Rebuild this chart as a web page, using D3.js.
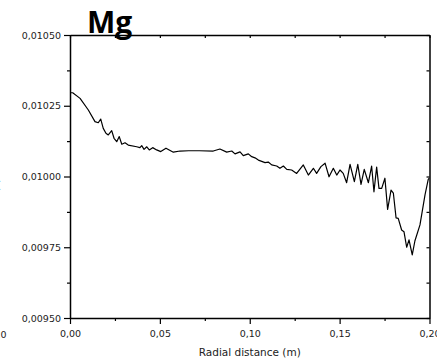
<!DOCTYPE html>
<html><head><meta charset="utf-8">
<script src="https://cdn.jsdelivr.net/npm/d3@7"></script>
<style>
html,body{margin:0;padding:0;background:#fff;}
svg{display:block;}
</style></head>
<body>
<svg id="chart" width="437" height="361"></svg>
<script>
// ---- data ----
const chartTitle = "Mg";
const xAxisTitle = "Radial distance (m)";
const yAxisTitle = "Mass fraction (-)";
const xTicks = [0, 0.05, 0.10, 0.15, 0.20];
const yTicks = [0.0095, 0.00975, 0.0100, 0.01025, 0.0105];
const radialDistance = [
  0.0000, 0.0015, 0.0056, 0.0102, 0.0139, 0.0157, 0.0171, 0.0185, 0.0200, 0.0213,
  0.0232, 0.0245, 0.0260, 0.0274, 0.0288, 0.0306, 0.0324, 0.0371, 0.0389, 0.0399,
  0.0412, 0.0427, 0.0441, 0.0460, 0.0482, 0.0505, 0.0534, 0.0575, 0.0612, 0.0660,
  0.0720, 0.0797, 0.0834, 0.0872, 0.0900, 0.0918, 0.0946, 0.0964, 0.0992, 0.1011,
  0.1029, 0.1048, 0.1085, 0.1103, 0.1122, 0.1150, 0.1168, 0.1187, 0.1206, 0.1233,
  0.1261, 0.1298, 0.1326, 0.1354, 0.1372, 0.1396, 0.1419, 0.1441, 0.1465, 0.1484,
  0.1502, 0.1520, 0.1539, 0.1558, 0.1582, 0.1601, 0.1619, 0.1637, 0.1660, 0.1678,
  0.1691, 0.1706, 0.1719, 0.1734, 0.1752, 0.1767, 0.1786, 0.1799, 0.1814, 0.1826,
  0.1845, 0.1858, 0.1873, 0.1886, 0.1904, 0.1919, 0.1947, 0.1975, 0.1993, 0.2000
];
const massFraction = [
  0.010296, 0.010296, 0.010276, 0.010235, 0.010194, 0.010190, 0.010203, 0.010170, 0.010153, 0.010147,
  0.010162, 0.010135, 0.010123, 0.010141, 0.010114, 0.010119, 0.010111, 0.010105, 0.010102, 0.010109,
  0.010096, 0.010105, 0.010094, 0.010102, 0.010094, 0.010088, 0.010100, 0.010086, 0.010090, 0.010091,
  0.010091, 0.010090, 0.010097, 0.010086, 0.010090, 0.010080, 0.010087, 0.010074, 0.010080, 0.010070,
  0.010066, 0.010058, 0.010049, 0.010051, 0.010041, 0.010037, 0.010029, 0.010037, 0.010025, 0.010023,
  0.010011, 0.010041, 0.010005, 0.010029, 0.010011, 0.010035, 0.010047, 0.009999, 0.010029, 0.010005,
  0.010023, 0.010011, 0.009978, 0.010043, 0.009982, 0.010043, 0.009972, 0.010025, 0.009978, 0.010037,
  0.009946, 0.010033, 0.009958, 0.009958, 0.009994, 0.009884, 0.009952, 0.009941, 0.009854, 0.009852,
  0.009811, 0.009805, 0.009750, 0.009776, 0.009723, 0.009773, 0.009829, 0.009935, 0.009990, 0.009995
];

// ---- layout ----
const L = 70, R = 429.5, T = 35, B = 318;
const svg = d3.select("#chart");
const x = d3.scaleLinear().domain([0, 0.2]).range([L, R]);
const y = d3.scaleLinear().domain([0.0095, 0.0105]).range([B, T]);
const commaFmt = f => v => d3.format(f)(v).replace(".", ",");
const minorX = d3.range(0, 4).map(i => 0.025 + i * 0.05);
const minorY = d3.range(0, 4).map(i => 0.009625 + i * 0.00025);
const font = "'DejaVu Sans', Verdana, sans-serif";

// data line (clipped to plot)
svg.append("clipPath").attr("id", "clip").append("rect")
  .attr("x", L).attr("y", T).attr("width", R - L).attr("height", B - T);
const line = d3.line().x((d, i) => x(radialDistance[i])).y(d => y(d));
svg.append("path").datum(massFraction)
  .attr("d", line).attr("fill", "none").attr("stroke", "#000")
  .attr("stroke-width", 1.2).attr("stroke-linejoin", "round")
  .attr("clip-path", "url(#clip)");

// bottom axis
svg.append("g").attr("transform", `translate(0,${B})`)
  .call(d3.axisBottom(x).tickValues(xTicks).tickFormat(commaFmt(".2f")).tickSize(6).tickPadding(6).tickSizeOuter(0));
svg.append("g").attr("transform", `translate(0,${B})`)
  .call(d3.axisBottom(x).tickValues(minorX).tickFormat("").tickSize(3).tickSizeOuter(0))
  .select(".domain").remove();
// left axis
svg.append("g").attr("transform", `translate(${L},0)`)
  .call(d3.axisLeft(y).tickValues(yTicks).tickFormat(commaFmt(".5f")).tickSize(6).tickPadding(3).tickSizeOuter(0));
svg.append("g").attr("transform", `translate(${L},0)`)
  .call(d3.axisLeft(y).tickValues(minorY).tickFormat("").tickSize(3).tickSizeOuter(0))
  .select(".domain").remove();
// top axis (inward ticks, no labels)
svg.append("g").attr("transform", `translate(0,${T})`)
  .call(d3.axisTop(x).tickValues(xTicks.concat(minorX)).tickFormat("").tickSize(-3).tickSizeOuter(0));
// right axis (inward ticks, no labels)
svg.append("g").attr("transform", `translate(${R},0)`)
  .call(d3.axisRight(y).tickValues(yTicks.concat(minorY)).tickFormat("").tickSize(-3).tickSizeOuter(0));

svg.selectAll(".domain").attr("stroke", "#000").attr("stroke-width", 1.5);
svg.selectAll(".tick line").attr("stroke", "#000").attr("stroke-width", 1.2);
svg.selectAll(".tick text").attr("font-family", font).attr("font-size", "9.5px").attr("fill", "#222");

// axis titles
svg.append("text").attr("x", (L + R) / 2).attr("y", 356)
  .attr("text-anchor", "middle").attr("font-family", font).attr("font-size", "10.5px")
  .attr("fill", "#222").text(xAxisTitle);
// y title mostly cut off at the left edge, as in the reference
svg.append("text").attr("transform", "translate(-1,178) rotate(-90)")
  .attr("text-anchor", "end").attr("font-family", font).attr("font-size", "13px")
  .attr("fill", "#222").text(yAxisTitle);
// partial label of neighbouring panel (cut at the left edge)
svg.append("text").attr("x", 6.5).attr("y", 338)
  .attr("text-anchor", "end").attr("font-family", font).attr("font-size", "9.5px")
  .attr("fill", "#222").text("0,20");

// chart title
svg.append("text").attr("x", 87).attr("y", 33)
  .attr("font-family", "'Open Sans', sans-serif").attr("font-weight", "bold")
  .attr("font-size", "30px").attr("fill", "#000").text(chartTitle);
</script>
</body></html>
